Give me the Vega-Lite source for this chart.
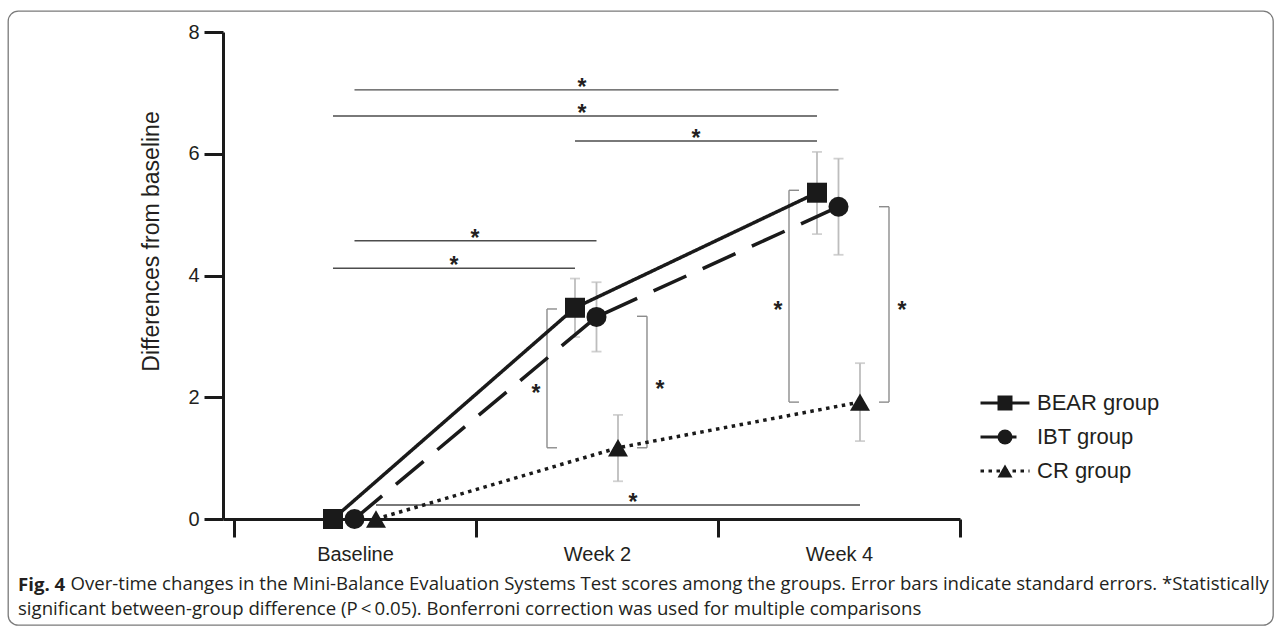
{
  "$schema": "https://vega.github.io/schema/vega-lite/v6.json",
  "width": 1265,
  "height": 614,
  "autosize": {"type": "none"},
  "padding": {"left": 8, "top": 11, "right": 8, "bottom": 3},
  "background": "white",
  "datasets": {
    "main": [
      {"time": "Baseline", "group": "BEAR group", "mean": 0},
      {"time": "Baseline", "group": "IBT group", "mean": 0},
      {"time": "Baseline", "group": "CR group", "mean": 0},
      {"time": "Week 2", "group": "BEAR group", "mean": 3.47, "lo": 2.99, "hi": 3.95},
      {"time": "Week 2", "group": "IBT group", "mean": 3.32, "lo": 2.75, "hi": 3.89},
      {"time": "Week 2", "group": "CR group", "mean": 1.17, "lo": 0.62, "hi": 1.71},
      {"time": "Week 4", "group": "BEAR group", "mean": 5.36, "lo": 4.68, "hi": 6.03},
      {"time": "Week 4", "group": "IBT group", "mean": 5.13, "lo": 4.34, "hi": 5.92},
      {"time": "Week 4", "group": "CR group", "mean": 1.92, "lo": 1.28, "hi": 2.56}
    ],
    "sig": [
      {"comp": "c1", "time": "Baseline", "group": "IBT group", "level": 7.05},
      {"comp": "c1", "time": "Week 4", "group": "IBT group", "level": 7.05},
      {"comp": "c2", "time": "Baseline", "group": "BEAR group", "level": 6.62},
      {"comp": "c2", "time": "Week 4", "group": "BEAR group", "level": 6.62},
      {"comp": "c3", "time": "Week 2", "group": "BEAR group", "level": 6.21},
      {"comp": "c3", "time": "Week 4", "group": "BEAR group", "level": 6.21},
      {"comp": "c4", "time": "Baseline", "group": "IBT group", "level": 4.57},
      {"comp": "c4", "time": "Week 2", "group": "IBT group", "level": 4.57},
      {"comp": "c5", "time": "Baseline", "group": "BEAR group", "level": 4.12},
      {"comp": "c5", "time": "Week 2", "group": "BEAR group", "level": 4.12},
      {"comp": "c6", "time": "Baseline", "group": "CR group", "level": 0.23},
      {"comp": "c6", "time": "Week 4", "group": "CR group", "level": 0.23}
    ],
    "brackets": [
      {"time": "Week 2", "side": "left", "top": 3.45, "bottom": 1.17},
      {"time": "Week 2", "side": "right", "top": 3.33, "bottom": 1.17},
      {"time": "Week 4", "side": "left", "top": 5.4, "bottom": 1.92},
      {"time": "Week 4", "side": "right", "top": 5.13, "bottom": 1.92}
    ]
  },
  "title": {
    "text": "Fig. 4",
    "subtitle": "significant between-group difference (P\u2009<\u20090.05). Bonferroni correction was used for multiple comparisons",
    "orient": "bottom",
    "anchor": "start",
    "frame": "group",
    "offset": -49,
    "dx": 10,
    "font": "Open Sans",
    "fontSize": 18.6,
    "fontWeight": "bold",
    "color": "#231f20",
    "subtitleFont": "Open Sans",
    "subtitleFontSize": 18.6,
    "subtitleColor": "#231f20",
    "subtitlePadding": 5.5,
    "subtitleLineHeight": 22
  },
  "encoding": {
    "x": {
      "field": "time",
      "type": "nominal",
      "scale": {"domain": ["Baseline", "Week 2", "Week 4"], "range": [215, 952], "paddingInner": 0, "paddingOuter": 0.0227, "align": 1},
      "axis": {
        "title": "Over-time changes in the Mini-Balance Evaluation Systems Test scores among the groups. Error bars indicate standard errors. *Statistically",
        "titleFont": "Open Sans",
        "titleFontSize": 18.6,
        "titleFontWeight": "normal",
        "titleColor": "#231f20",
        "titleAlign": "left",
        "titleBaseline": "alphabetic",
        "titleX": 62,
        "titleY": 70,
        "orient": "bottom",
        "offset": -106,
        "labelAngle": 0,
        "labelFont": "Liberation Sans",
        "labelFontSize": 20,
        "labelColor": "#231f20",
        "labelPadding": 7,
        "tickBand": "extent",
        "tickSize": 18,
        "tickWidth": 3,
        "tickColor": "#1a1a1a",
        "domainWidth": 3,
        "domainColor": "#1a1a1a",
        "grid": false
      }
    }
  },
  "layer": [
    {
      "data": {"name": "main"},
      "transform": [{"filter": "isValid(datum.hi)"}],
      "mark": {"type": "rule", "color": "#bdbdbd", "strokeWidth": 1.8},
      "encoding": {
        "xOffset": {"field": "group", "type": "nominal", "scale": {"type": "point", "domain": ["BEAR group", "IBT group", "CR group"], "range": [99, 142], "padding": 0}},
        "y": {
          "field": "lo",
          "type": "quantitative",
          "scale": {"domain": [0, 8], "range": [508, 21], "nice": false, "zero": false},
          "axis": {
            "title": "Differences from baseline",
            "orient": "left",
            "offset": -215,
            "values": [0, 2, 4, 6, 8],
            "format": "d",
            "labelFont": "Liberation Sans",
            "labelFontSize": 20,
            "labelColor": "#231f20",
            "labelPadding": 5,
            "tickSize": 19,
            "tickWidth": 3,
            "tickColor": "#1a1a1a",
            "domainWidth": 3,
            "domainColor": "#1a1a1a",
            "grid": false,
            "titleFont": "Liberation Sans",
            "titleFontSize": 23,
            "titleFontWeight": "normal",
            "titleColor": "#231f20",
            "titlePadding": 24,
            "titleY": 230
          }
        },
        "y2": {"field": "hi"}
      }
    },
    {
      "data": {"name": "main"},
      "transform": [{"filter": "isValid(datum.hi)"}],
      "mark": {"type": "tick", "color": "#bdbdbd", "thickness": 1.8, "size": 10, "orient": "horizontal"},
      "encoding": {
        "xOffset": {"field": "group", "type": "nominal"},
        "y": {"field": "lo", "type": "quantitative"}
      }
    },
    {
      "data": {"name": "main"},
      "transform": [{"filter": "isValid(datum.hi)"}],
      "mark": {"type": "tick", "color": "#bdbdbd", "thickness": 1.8, "size": 10, "orient": "horizontal"},
      "encoding": {
        "xOffset": {"field": "group", "type": "nominal"},
        "y": {"field": "hi", "type": "quantitative"}
      }
    },
    {
      "data": {"name": "brackets"},
      "transform": [{"filter": "datum.side === 'left'"}],
      "mark": {"type": "rule", "color": "#8c8c8c", "strokeWidth": 1.4, "xOffset": -50},
      "encoding": {"y": {"field": "top", "type": "quantitative"}, "y2": {"field": "bottom"}}
    },
    {
      "data": {"name": "brackets"},
      "transform": [{"filter": "datum.side === 'left'"}],
      "mark": {"type": "rule", "color": "#8c8c8c", "strokeWidth": 1.4, "xOffset": -50, "x2Offset": -40},
      "encoding": {"x2": {"field": "time"}, "y": {"field": "top", "type": "quantitative"}}
    },
    {
      "data": {"name": "brackets"},
      "transform": [{"filter": "datum.side === 'left'"}],
      "mark": {"type": "rule", "color": "#8c8c8c", "strokeWidth": 1.4, "xOffset": -50, "x2Offset": -40},
      "encoding": {"x2": {"field": "time"}, "y": {"field": "bottom", "type": "quantitative"}}
    },
    {
      "data": {"name": "brackets"},
      "transform": [{"filter": "datum.side === 'right'"}],
      "mark": {"type": "rule", "color": "#8c8c8c", "strokeWidth": 1.4, "xOffset": 50},
      "encoding": {"y": {"field": "top", "type": "quantitative"}, "y2": {"field": "bottom"}}
    },
    {
      "data": {"name": "brackets"},
      "transform": [{"filter": "datum.side === 'right'"}],
      "mark": {"type": "rule", "color": "#8c8c8c", "strokeWidth": 1.4, "xOffset": 40, "x2Offset": 50},
      "encoding": {"x2": {"field": "time"}, "y": {"field": "top", "type": "quantitative"}}
    },
    {
      "data": {"name": "brackets"},
      "transform": [{"filter": "datum.side === 'right'"}],
      "mark": {"type": "rule", "color": "#8c8c8c", "strokeWidth": 1.4, "xOffset": 40, "x2Offset": 50},
      "encoding": {"x2": {"field": "time"}, "y": {"field": "bottom", "type": "quantitative"}}
    },
    {
      "data": {"name": "sig"},
      "mark": {"type": "line", "color": "#4d4d4d", "strokeWidth": 1.4},
      "encoding": {
        "xOffset": {"field": "group", "type": "nominal"},
        "y": {"field": "level", "type": "quantitative"},
        "detail": {"field": "comp", "type": "nominal"}
      }
    },
    {
      "data": {"name": "main"},
      "mark": {"type": "line", "color": "#1a1a1a", "strokeWidth": 3.5},
      "encoding": {
        "xOffset": {"field": "group", "type": "nominal"},
        "y": {"field": "mean", "type": "quantitative"},
        "strokeDash": {
          "field": "group",
          "type": "nominal",
          "scale": {"domain": ["BEAR group", "IBT group", "CR group"], "range": [[1, 0], [36, 18], [3.5, 4.5]]},
          "legend": {
            "title": null,
            "orient": "none",
            "legendX": 971,
            "legendY": 381,
            "padding": 0,
            "symbolType": "stroke",
            "symbolSize": 2401,
            "symbolStrokeWidth": 3,
            "symbolStrokeColor": "#1a1a1a",
            "labelFont": "Liberation Sans",
            "labelFontSize": 22,
            "labelColor": "#231f20",
            "labelOffset": 6,
            "clipHeight": 22,
            "rowPadding": 12,
            "encode": {
              "symbols": {
                "update": {
                  "strokeDash": {"signal": "datum.value === 'BEAR group' ? [1, 0] : datum.value === 'IBT group' ? [9, 10] : [2, 2]"}
                }
              }
            }
          }
        }
      }
    },
    {
      "data": {"name": "main"},
      "mark": {"type": "point", "filled": true, "color": "#1a1a1a", "opacity": 1, "size": 400},
      "encoding": {
        "xOffset": {"field": "group", "type": "nominal"},
        "y": {"field": "mean", "type": "quantitative"},
        "shape": {
          "field": "group",
          "type": "nominal",
          "sort": ["BEAR group", "IBT group", "CR group"],
          "scale": {"range": ["square", "circle", "triangle-up"]},
          "legend": {
            "title": null,
            "orient": "none",
            "legendX": 986,
            "legendY": 381,
            "padding": 0,
            "symbolSize": 225,
            "symbolFillColor": "#1a1a1a",
            "symbolStrokeColor": "#1a1a1a",
            "symbolStrokeWidth": 0,
            "symbolOpacity": 1,
            "labelFont": "Liberation Sans",
            "labelFontSize": 22,
            "labelExpr": "''",
            "labelOffset": 9,
            "clipHeight": 22,
            "rowPadding": 12
          }
        }
      }
    },
    {
      "data": {"values": [{"time": "Week 2", "y": 7.05}, {"time": "Week 2", "y": 6.62}]},
      "mark": {"type": "text", "text": "*", "font": "Liberation Sans", "fontWeight": "bold", "fontSize": 23, "color": "#231f20", "baseline": "alphabetic", "dx": -15, "dy": 5},
      "encoding": {"y": {"field": "y", "type": "quantitative"}}
    },
    {
      "data": {"values": [{"time": "Week 2", "y": 6.21}, {"time": "Baseline", "y": 4.12}]},
      "mark": {"type": "text", "text": "*", "font": "Liberation Sans", "fontWeight": "bold", "fontSize": 23, "color": "#231f20", "baseline": "alphabetic", "dx": 99, "dy": 5},
      "encoding": {"y": {"field": "y", "type": "quantitative"}}
    },
    {
      "data": {"values": [{"time": "Baseline", "y": 4.57}]},
      "mark": {"type": "text", "text": "*", "font": "Liberation Sans", "fontWeight": "bold", "fontSize": 23, "color": "#231f20", "baseline": "alphabetic", "dx": 120, "dy": 5},
      "encoding": {"y": {"field": "y", "type": "quantitative"}}
    },
    {
      "data": {"values": [{"time": "Week 2", "y": 0.23}]},
      "mark": {"type": "text", "text": "*", "font": "Liberation Sans", "fontWeight": "bold", "fontSize": 23, "color": "#231f20", "baseline": "alphabetic", "dx": 36, "dy": 5},
      "encoding": {"y": {"field": "y", "type": "quantitative"}}
    },
    {
      "data": {"values": [{"time": "Week 2", "y": 2.15}, {"time": "Week 4", "y": 3.52}]},
      "mark": {"type": "text", "text": "*", "font": "Liberation Sans", "fontWeight": "bold", "fontSize": 23, "color": "#231f20", "baseline": "alphabetic", "dx": -61, "dy": 13},
      "encoding": {"y": {"field": "y", "type": "quantitative"}}
    },
    {
      "data": {"values": [{"time": "Week 2", "y": 2.22}, {"time": "Week 4", "y": 3.52}]},
      "mark": {"type": "text", "text": "*", "font": "Liberation Sans", "fontWeight": "bold", "fontSize": 23, "color": "#231f20", "baseline": "alphabetic", "dx": 63, "dy": 13},
      "encoding": {"y": {"field": "y", "type": "quantitative"}}
    }
  ],
  "config": {
    "view": {"stroke": "#7a7a7a", "strokeWidth": 1.3, "cornerRadius": 10},
    "font": "Liberation Sans"
  }
}
